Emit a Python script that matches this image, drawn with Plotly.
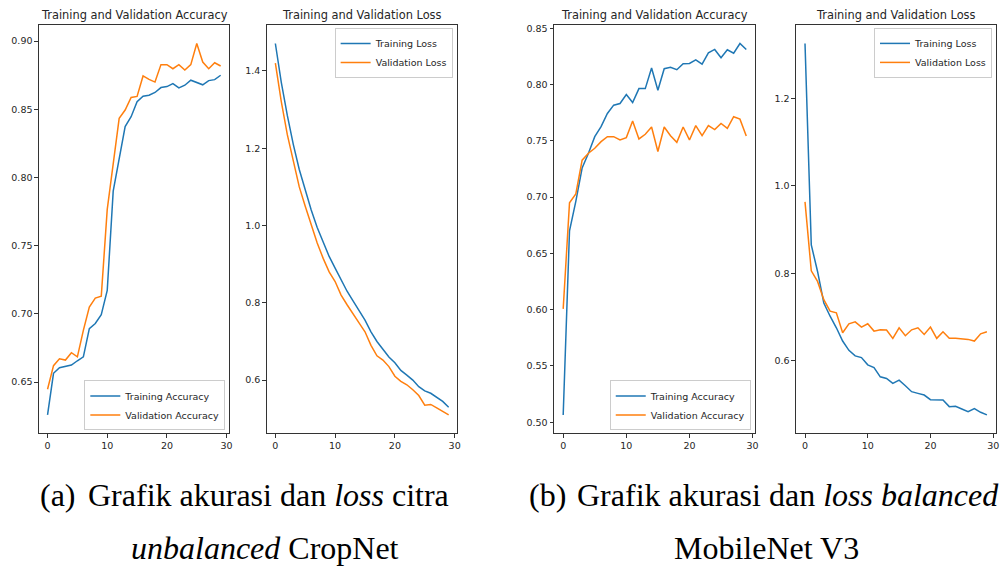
import plotly.graph_objects as go

W, H = 1002, 569

epochs = list(range(30))

# (a) CropNet unbalanced
a_train_acc = [0.626, 0.6565, 0.6606, 0.6618, 0.6626, 0.6657, 0.6686, 0.6893, 0.693, 0.6995,
               0.7172, 0.790, 0.8143, 0.8374, 0.8446, 0.8556, 0.8597, 0.8604, 0.8624, 0.866,
               0.8667, 0.8689, 0.8658, 0.8677, 0.8714, 0.8694, 0.868, 0.8711, 0.8718, 0.875]
a_val_acc = [0.6448, 0.6621, 0.6672, 0.6662, 0.6716, 0.6686, 0.688, 0.705, 0.7116, 0.713,
             0.7767, 0.8119, 0.8434, 0.8495, 0.8587, 0.8595, 0.8745, 0.872, 0.870, 0.8828,
             0.8828, 0.8798, 0.8828, 0.8789, 0.8828, 0.8983, 0.8847, 0.8798, 0.8842, 0.8818]
a_train_loss = [1.471, 1.37, 1.285, 1.21, 1.145, 1.09, 1.04, 0.995, 0.955, 0.92,
                0.89, 0.86, 0.83, 0.805, 0.78, 0.755, 0.725, 0.70, 0.68, 0.66,
                0.645, 0.625, 0.613, 0.60, 0.583, 0.572, 0.566, 0.555, 0.545, 0.530]
a_val_loss = [1.42, 1.32, 1.235, 1.165, 1.10, 1.05, 1.00, 0.955, 0.915, 0.88,
              0.855, 0.82, 0.795, 0.77, 0.748, 0.725, 0.69, 0.663, 0.652, 0.635,
              0.61, 0.597, 0.588, 0.575, 0.56, 0.535, 0.537, 0.528, 0.52, 0.51]

# (b) MobileNet V3 balanced
b_train_acc = [0.5065, 0.670, 0.6963, 0.7258, 0.739, 0.7537, 0.7626, 0.7743, 0.7817, 0.7832,
               0.7911, 0.784, 0.7964, 0.7964, 0.8147, 0.795, 0.8141, 0.8153, 0.8132, 0.8185,
               0.8188, 0.822, 0.8182, 0.8282, 0.8312, 0.8238, 0.8309, 0.8279, 0.8365, 0.8312]
b_val_acc = [0.6007, 0.6949, 0.7028, 0.7328, 0.739, 0.7434, 0.7493, 0.7537, 0.7537, 0.7508,
             0.7529, 0.7676, 0.7517, 0.7558, 0.7623, 0.7405, 0.7623, 0.7546, 0.7487, 0.7623,
             0.7508, 0.7635, 0.7546, 0.7635, 0.760, 0.7655, 0.7611, 0.7714, 0.7693, 0.7543]
b_train_loss = [1.325, 0.865, 0.8043, 0.7324, 0.7021, 0.6757, 0.6454, 0.6242, 0.6114, 0.6076,
                0.591, 0.5849, 0.5637, 0.5599, 0.5486, 0.5561, 0.5433, 0.5297, 0.5259, 0.5221,
                0.5115, 0.5107, 0.5107, 0.4956, 0.4963, 0.4903, 0.4842, 0.491, 0.4827, 0.4767]
b_val_loss = [0.9632, 0.8058, 0.7816, 0.74, 0.7135, 0.7097, 0.6643, 0.6848, 0.6893, 0.6772,
              0.6848, 0.6681, 0.6711, 0.6704, 0.6515, 0.6757, 0.6575, 0.6711, 0.6757, 0.6605,
              0.6772, 0.6515, 0.6666, 0.6515, 0.6515, 0.6507, 0.6492, 0.6454, 0.662, 0.6666]

panel_title_acc = "Training and Validation Accuracy"
panel_title_loss = "Training and Validation Loss"
x_ticks = [0, 10, 20, 30]

BLUE = "#1f77b4"
ORANGE = "#ff7f0e"
TXT = "#262626"
SPINE = "#333333"
FONT = "DejaVu Sans"

# panel pixel boxes (left, right) and shared top/bottom
panels = [(39, 230), (267.5, 458.7), (555.7, 757.7), (798.3, 999)]
top_px, bot_px = 23, 433


def px_x(p):
    return p / W


def px_y(p):
    return 1 - p / H


def mpl_range(*series):
    vals = [v for s in series for v in s]
    lo, hi = min(vals), max(vals)
    pad = 0.05 * (hi - lo)
    return [lo - pad, hi + pad]


fig = go.Figure()

specs = [
    (a_train_acc, a_val_acc, "Training Accuracy", "Validation Accuracy", "legend", 0.05, ".2f"),
    (a_train_loss, a_val_loss, "Training Loss", "Validation Loss", "legend2", 0.2, ".1f"),
    (b_train_acc, b_val_acc, "Training Accuracy", "Validation Accuracy", "legend3", 0.05, ".2f"),
    (b_train_loss, b_val_loss, "Training Loss", "Validation Loss", "legend4", 0.2, ".1f"),
]

layout = dict(
    width=W, height=H,
    margin=dict(l=0, r=0, t=0, b=0),
    paper_bgcolor="white", plot_bgcolor="white",
    font=dict(family=FONT, color=TXT, size=10),
    annotations=[],
)

for i, (tr, va, n1, n2, leg, dt, fmt) in enumerate(specs):
    k = "" if i == 0 else str(i + 1)
    fig.add_trace(go.Scatter(x=epochs, y=tr, mode="lines", name=n1,
                             line=dict(color=BLUE, width=1.5),
                             xaxis="x" + k, yaxis="y" + k, legend=leg))
    fig.add_trace(go.Scatter(x=epochs, y=va, mode="lines", name=n2,
                             line=dict(color=ORANGE, width=1.5),
                             xaxis="x" + k, yaxis="y" + k, legend=leg))
    l, r = panels[i]
    common = dict(showgrid=False, zeroline=False, showline=True, mirror=True,
                  linecolor=SPINE, linewidth=1, ticks="outside", ticklen=3.5,
                  tickwidth=0.8, tickcolor=SPINE,
                  tickfont=dict(family=FONT, size=9.5, color=TXT))
    layout["xaxis" + k] = dict(common, domain=[px_x(l), px_x(r)],
                               range=mpl_range(epochs), tickvals=x_ticks,
                               anchor="y" + k)
    layout["yaxis" + k] = dict(common, domain=[px_y(bot_px), px_y(top_px)],
                               range=mpl_range(tr, va), dtick=dt, tick0=0,
                               tickformat=fmt, anchor="x" + k)
    title = panel_title_acc if i % 2 == 0 else panel_title_loss
    layout["annotations"].append(dict(
        text=title, xref="paper", yref="paper", x=px_x((l + r) / 2), y=px_y(13),
        xanchor="center", yanchor="middle", showarrow=False,
        font=dict(family=FONT, size=11.4, color=TXT)))

legend_common = dict(bgcolor="rgba(255,255,255,0.85)", bordercolor="#cccccc",
                     borderwidth=1, font=dict(family=FONT, size=9.5, color=TXT),
                     itemwidth=30, tracegroupgap=0, xref="paper", yref="paper")
layout["legend"] = dict(legend_common, x=px_x(226), y=px_y(430), xanchor="right", yanchor="bottom")
layout["legend2"] = dict(legend_common, x=px_x(454), y=px_y(26), xanchor="right", yanchor="top")
layout["legend3"] = dict(legend_common, x=px_x(753), y=px_y(430), xanchor="right", yanchor="bottom")
layout["legend4"] = dict(legend_common, x=px_x(995), y=px_y(26), xanchor="right", yanchor="top")

SERIF = "Liberation Serif, Times New Roman, serif"
cap_size = 32
captions = [
    ("(a)", 38.3, 495, "left"),
    ("Grafik akurasi dan <i>loss</i> citra", 86.7, 495, "left"),
    ("<i>unbalanced</i> CropNet", 265.8, 548, "center"),
    ("(b)", 528.3, 495, "left"),
    ("Grafik akurasi dan <i>loss balanced</i>", 576.7, 495, "left"),
    ("MobileNet V3", 769.3, 548, "center"),
]
for txt, xp, yp, xa in captions:
    layout["annotations"].append(dict(
        text=txt, xref="paper", yref="paper", x=px_x(xp), y=px_y(yp),
        xanchor=xa, yanchor="middle", showarrow=False,
        font=dict(family=SERIF, size=cap_size, color="black")))

fig.update_layout(**layout)
fig.write_html("out.html",
               config={"displayModeBar": False},
               post_script="document.body.style.margin='0';document.body.style.overflow='hidden';")
